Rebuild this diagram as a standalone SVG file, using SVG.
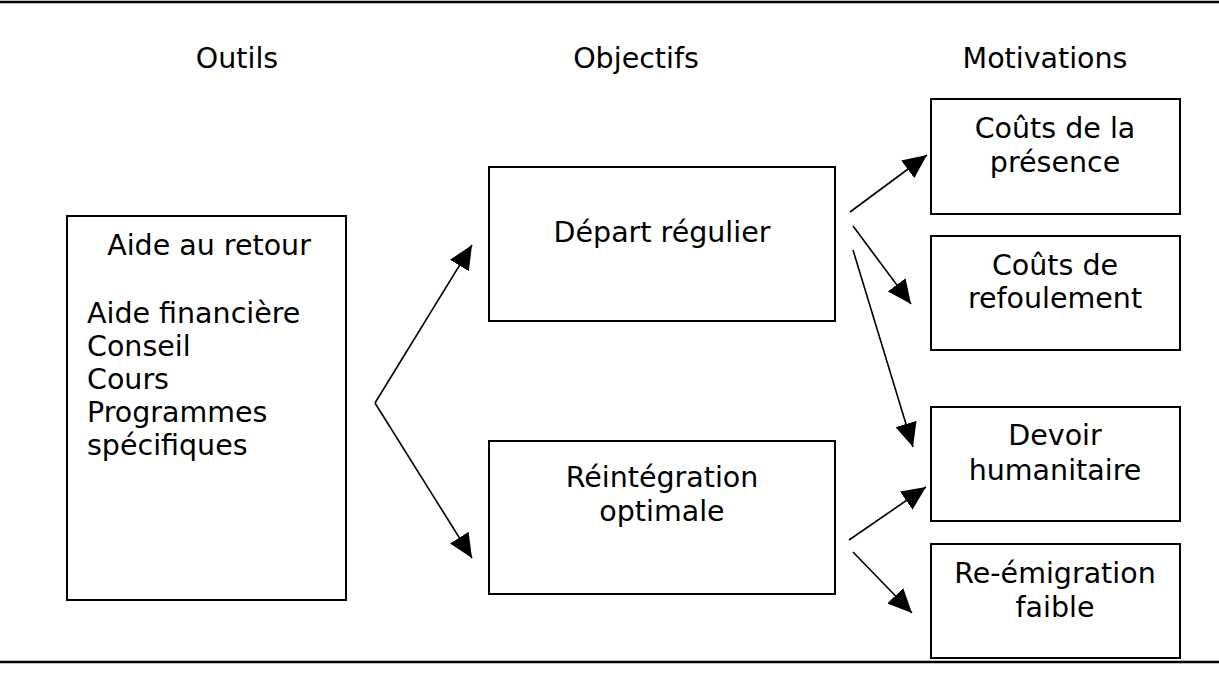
<svg xmlns="http://www.w3.org/2000/svg" width="1219" height="696" viewBox="0 0 1219 696">
<style>
text{font-family:"DejaVu Sans","Liberation Sans",sans-serif;font-size:28.5px;fill:#000}
.box{fill:#fff;stroke:#000;stroke-width:2}
.c{text-anchor:middle}
.conn line{stroke:#000;stroke-width:1.6}
</style>
<defs>
<marker id="ah" markerUnits="userSpaceOnUse" markerWidth="26" markerHeight="22" refX="24" refY="11" orient="auto">
<path d="M0,0 L24,11 L0,22 Z" fill="#000"/>
</marker>
</defs>
<rect width="1219" height="696" fill="#fff"/>
<line x1="0" y1="2" x2="1219" y2="2" stroke="#000" stroke-width="2.5"/>
<line x1="0" y1="662" x2="1219" y2="662" stroke="#000" stroke-width="2.5"/>
<g id="headers">
<text class="c" x="237" y="68">Outils</text>
<text class="c" x="636" y="68">Objectifs</text>
<text class="c" x="1045" y="68">Motivations</text>
</g>
<g id="aide">
<rect class="box" x="67" y="216" width="279" height="384"/>
<text class="c" x="209" y="255">Aide au retour</text>
<text x="87" y="323">Aide financière</text>
<text x="87" y="356">Conseil</text>
<text x="87" y="389">Cours</text>
<text x="87" y="422">Programmes</text>
<text x="87" y="455">spécifiques</text>
</g>
<g id="depart">
<rect class="box" x="489" y="167" width="346" height="154"/>
<text class="c" x="662" y="242">Départ régulier</text>
</g>
<g id="reint">
<rect class="box" x="489" y="441" width="346" height="153"/>
<text class="c" x="662" y="487">Réintégration</text>
<text class="c" x="662" y="521">optimale</text>
</g>
<g id="presence">
<rect class="box" x="931" y="99" width="249" height="115"/>
<text class="c" x="1055" y="138">Coûts de la</text>
<text class="c" x="1055" y="172">présence</text>
</g>
<g id="refoulement">
<rect class="box" x="931" y="236" width="249" height="114"/>
<text class="c" x="1055" y="275">Coûts de</text>
<text class="c" x="1055" y="308">refoulement</text>
</g>
<g id="devoir">
<rect class="box" x="931" y="407" width="249" height="114"/>
<text class="c" x="1055" y="445">Devoir</text>
<text class="c" x="1055" y="480">humanitaire</text>
</g>
<g id="reemig">
<rect class="box" x="931" y="544" width="249" height="114"/>
<text class="c" x="1055" y="583">Re-émigration</text>
<text class="c" x="1055" y="617">faible</text>
</g>
<g id="connectors" class="conn">
<line x1="375" y1="403" x2="472" y2="245" marker-end="url(#ah)"/>
<line x1="375" y1="403" x2="472" y2="558" marker-end="url(#ah)"/>
<line x1="850" y1="212" x2="927" y2="155" marker-end="url(#ah)"/>
<line x1="853" y1="226" x2="911" y2="304" marker-end="url(#ah)"/>
<line x1="853" y1="250" x2="913" y2="447" marker-end="url(#ah)"/>
<line x1="849" y1="540" x2="926" y2="487" marker-end="url(#ah)"/>
<line x1="853" y1="552" x2="912" y2="613" marker-end="url(#ah)"/>
</g>
</svg>
